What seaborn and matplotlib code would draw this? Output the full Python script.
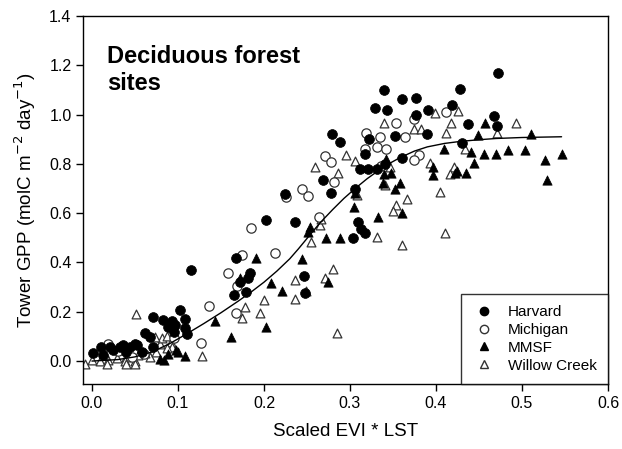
# -*- coding: utf-8 -*-
"""
Tower GPP vs scaled EVI * LST for the deciduous forest sites
"""

import pandas as pd
import seaborn as sns
import matplotlib
matplotlib.use('Agg')
import matplotlib.pyplot as plt
from matplotlib.lines import Line2D

# values
harvard_x = [0.472, 0.339, 0.360, 0.377, 0.329, 0.343, 0.428, 0.391, 0.419, 0.377,
             0.279, 0.288, 0.322, 0.352, 0.390, 0.437, 0.467, 0.471, 0.430, 0.317,
             0.312, 0.321, 0.331, 0.341, 0.360, 0.269, 0.278, 0.306, 0.309, 0.303,
             0.317, 0.313, 0.224, 0.202, 0.236, 0.115, 0.167, 0.184, 0.182, 0.165,
             0.179, 0.172, 0.246, 0.248, 0.071, 0.083, 0.093, 0.102, 0.108, 0.097,
             0.095, 0.111, 0.108, 0.089, 0.062, 0.067, 0.052, 0.044, 0.033, 0.021,
             0.011, 0.001, 0.013, 0.040, 0.058, 0.071, 0.050, 0.036, 0.025]
harvard_y = [1.167, 1.100, 1.065, 1.068, 1.028, 1.020, 1.103, 1.020, 1.040, 0.998,
             0.920, 0.890, 0.899, 0.913, 0.920, 0.960, 0.995, 0.953, 0.886, 0.842,
             0.780, 0.780, 0.780, 0.800, 0.825, 0.734, 0.683, 0.698, 0.565, 0.500,
             0.520, 0.535, 0.676, 0.572, 0.565, 0.369, 0.419, 0.356, 0.336, 0.268,
             0.281, 0.322, 0.345, 0.275, 0.177, 0.166, 0.163, 0.207, 0.169, 0.146,
             0.119, 0.110, 0.133, 0.137, 0.112, 0.099, 0.065, 0.058, 0.058, 0.058,
             0.058, 0.032, 0.024, 0.038, 0.038, 0.058, 0.071, 0.065, 0.045]

michigan_x = [0.019, 0.046, 0.030, 0.060, 0.136, 0.127, 0.158, 0.175, 0.185, 0.213,
              0.169, 0.168, 0.264, 0.095, 0.226, 0.244, 0.251, 0.271, 0.278, 0.281,
              0.319, 0.335, 0.332, 0.342, 0.317, 0.354, 0.364, 0.374, 0.380, 0.374,
              0.412, 0.336]
michigan_y = [0.071, 0.018, 0.040, 0.030, 0.224, 0.074, 0.358, 0.430, 0.540, 0.439,
              0.304, 0.196, 0.585, 0.092, 0.667, 0.700, 0.669, 0.832, 0.809, 0.725,
              0.926, 0.910, 0.869, 0.862, 0.862, 0.967, 0.910, 0.984, 0.836, 0.815,
              1.011, 0.791]

mmsf_x = [0.143, 0.162, 0.191, 0.172, 0.202, 0.208, 0.221, 0.244, 0.253, 0.251,
          0.275, 0.272, 0.288, 0.098, 0.089, 0.108, 0.079, 0.084, 0.100, 0.305,
          0.333, 0.361, 0.306, 0.339, 0.348, 0.338, 0.358, 0.352, 0.342, 0.396,
          0.397, 0.409, 0.422, 0.435, 0.444, 0.441, 0.456, 0.470, 0.484, 0.503,
          0.527, 0.546, 0.529, 0.449, 0.457, 0.510, 0.424]
mmsf_y = [0.164, 0.099, 0.420, 0.335, 0.139, 0.315, 0.285, 0.413, 0.545, 0.525,
          0.322, 0.498, 0.498, 0.045, 0.028, 0.022, 0.007, 0.004, 0.038, 0.624,
          0.585, 0.602, 0.680, 0.759, 0.761, 0.723, 0.723, 0.700, 0.818, 0.788,
          0.754, 0.859, 0.761, 0.764, 0.802, 0.850, 0.842, 0.842, 0.856, 0.856,
          0.815, 0.840, 0.734, 0.917, 0.967, 0.921, 0.772]

willow_x = [0.051, 0.200, 0.178, 0.175, 0.195, 0.128, 0.236, 0.249, 0.255, 0.236,
            0.280, 0.271, 0.285, 0.265, 0.410, 0.360, 0.332, 0.354, 0.350, 0.366,
            0.405, 0.308, 0.259, 0.286, 0.295, 0.306, 0.339, 0.374, 0.383, 0.399,
            0.426, 0.418, 0.412, 0.471, 0.493, 0.434, 0.393, 0.421, 0.416, 0.341,
            0.347, 0.266, 0.000, 0.009, 0.019, 0.029, 0.040, 0.050, 0.054, 0.067,
            0.075, 0.079, 0.082, 0.092, 0.093, 0.087, 0.015, 0.035, 0.038, 0.062,
            -0.008, 0.040, 0.050, 0.017, 0.073, 0.087]
willow_y = [0.191, 0.247, 0.218, 0.173, 0.193, 0.020, 0.250, 0.285, 0.484, 0.329,
            0.372, 0.339, 0.115, 0.552, 0.521, 0.470, 0.505, 0.633, 0.610, 0.656,
            0.687, 0.673, 0.788, 0.761, 0.838, 0.813, 0.967, 0.943, 0.943, 1.007,
            1.015, 0.964, 0.926, 0.926, 0.964, 0.862, 0.805, 0.788, 0.759, 0.714,
            0.788, 0.578, 0.004, 0.000, 0.004, 0.011, 0.017, 0.000, 0.024, 0.017,
            0.038, 0.071, 0.092, 0.078, 0.058, 0.051, 0.024, 0.045, 0.000, 0.031,
            -0.010, -0.012, -0.010, -0.012, 0.096, 0.101]

# fitted curve, points
curve_x = [0.0, 0.03, 0.05, 0.07, 0.09, 0.11, 0.13, 0.15, 0.17, 0.185, 0.20,
           0.215, 0.23, 0.24, 0.253, 0.265, 0.28, 0.293, 0.306, 0.32, 0.33,
           0.345, 0.358, 0.375, 0.39, 0.41, 0.428, 0.45, 0.47, 0.50, 0.546]
curve_y = [0.0, 0.006, 0.017, 0.037, 0.07, 0.11, 0.152, 0.196, 0.243, 0.28, 0.32,
           0.365, 0.415, 0.455, 0.51, 0.56, 0.615, 0.66, 0.70, 0.74, 0.765,
           0.80, 0.825, 0.852, 0.869, 0.883, 0.891, 0.898, 0.903, 0.907, 0.91]

sites = ['Harvard', 'Michigan', 'MMSF', 'Willow Creek']


def main():
    sns.set_style('ticks')
    plt.rcParams['font.family'] = ['Liberation Sans', 'DejaVu Sans']
    plt.rcParams['text.color'] = 'black'
    plt.rcParams['axes.labelcolor'] = 'black'
    plt.rcParams['xtick.color'] = 'black'
    plt.rcParams['ytick.color'] = 'black'

    fig, ax = plt.subplots(1, 1, figsize=(6.22, 4.49), dpi=100)
    fig.subplots_adjust(left=0.134, right=0.9775, top=0.9644, bottom=0.1448)

    sns.lineplot(x=curve_x, y=curve_y, sort=False, estimator=None,
                 color='black', linewidth=1.0, ax=ax, zorder=3)

    sns.scatterplot(x=willow_x, y=willow_y, marker='^', s=40, facecolor='white',
                    edgecolor='#333333', linewidth=0.9, ax=ax, zorder=2)
    sns.scatterplot(x=mmsf_x, y=mmsf_y, marker='^', s=45, color='black',
                    edgecolor='black', linewidth=0.5, ax=ax, zorder=2)
    sns.scatterplot(x=michigan_x, y=michigan_y, marker='o', s=45, facecolor='white',
                    edgecolor='#333333', linewidth=0.9, ax=ax, zorder=2)
    sns.scatterplot(x=harvard_x, y=harvard_y, marker='o', s=50, color='black',
                    edgecolor='black', linewidth=0.5, ax=ax, zorder=2)

    ax.set_xlim(-0.01, 0.6)
    ax.set_ylim(-0.093, 1.4)
    ax.set_xticks([0.0, 0.1, 0.2, 0.3, 0.4, 0.5, 0.6])
    ax.set_yticks([0.0, 0.2, 0.4, 0.6, 0.8, 1.0, 1.2, 1.4])
    ax.set_xticklabels(['0.0', '0.1', '0.2', '0.3', '0.4', '0.5', '0.6'])
    ax.set_yticklabels(['0.0', '0.2', '0.4', '0.6', '0.8', '1.0', '1.2', '1.4'])
    ax.tick_params(direction='out', length=5, width=1, labelsize=11.5, colors='black')
    for sp in ax.spines.values():
        sp.set_visible(True)
        sp.set_color('black')
        sp.set_linewidth(1.0)

    ax.set_xlabel('Scaled EVI * LST', fontsize=13.5, labelpad=9, color='black')
    ax.set_ylabel('Tower GPP (molC m$^{-2}$ day$^{-1}$)', fontsize=13.5,
                  labelpad=8, color='black')

    ax.text(0.046, 0.922, 'Deciduous forest\nsites', transform=ax.transAxes,
            fontsize=17, fontweight='bold', va='top', ha='left', linespacing=1.25,
            color='black')

    handles = [
        Line2D([], [], marker='o', linestyle='', markerfacecolor='black',
               markeredgecolor='black', markersize=6),
        Line2D([], [], marker='o', linestyle='', markerfacecolor='white',
               markeredgecolor='#333333', markersize=6),
        Line2D([], [], marker='^', linestyle='', markerfacecolor='black',
               markeredgecolor='black', markersize=6),
        Line2D([], [], marker='^', linestyle='', markerfacecolor='white',
               markeredgecolor='#333333', markersize=6),
    ]
    leg = ax.legend(handles, sites, loc='lower right', borderaxespad=0,
                    fontsize=11, frameon=True, fancybox=False, edgecolor='black',
                    handletextpad=0.8, labelspacing=0.25, borderpad=0.75,
                    handlelength=1.5)
    leg.get_frame().set_linewidth(1.0)
    for t in leg.get_texts():
        t.set_color('black')

    fig.savefig('out.png', dpi=100)


if __name__ == '__main__':
    main()
